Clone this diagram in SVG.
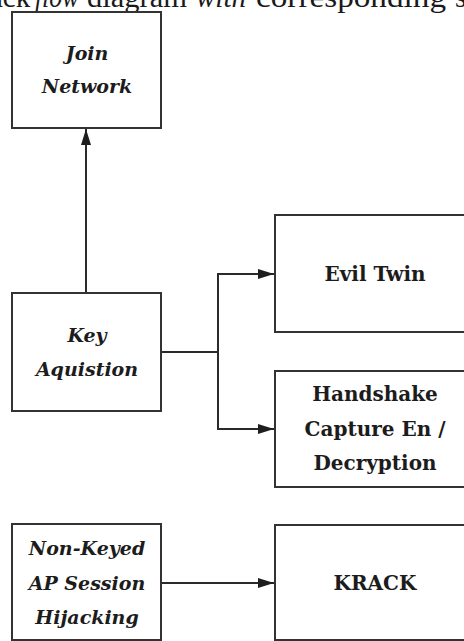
<svg xmlns="http://www.w3.org/2000/svg" width="464" height="641" viewBox="0 0 464 641">
  <defs>
    <marker id="arrow" viewBox="0 0 16 10" refX="16" refY="5" markerWidth="16" markerHeight="10" markerUnits="userSpaceOnUse" orient="auto">
      <path d="M0,0 L16,5 L0,10 Z" fill="#1e1e1e"/>
    </marker>
  </defs>
  <style>
    .box { fill: #ffffff; stroke: #333333; stroke-width: 2; }
    .edge { fill: none; stroke: #2a2a2a; stroke-width: 2; }
    .lbl-i { font-family: "DejaVu Serif", "Liberation Serif", serif; font-weight: bold; font-style: italic; font-size: 19px; fill: #1c1c1c; text-anchor: middle; }
    .lbl { font-family: "DejaVu Serif", "Liberation Serif", serif; font-weight: bold; font-size: 20px; fill: #1c1c1c; text-anchor: middle; }
    .cap { font-family: "Liberation Serif", serif; font-size: 29px; fill: #1a1a1a; }
  </style>
  <rect width="464" height="641" fill="#ffffff"/>

  <g id="caption">
    <text class="cap" y="7"><tspan x="-10">ack</tspan><tspan x="35" font-style="italic" textLength="44" lengthAdjust="spacingAndGlyphs">flow</tspan><tspan x="87" textLength="100" lengthAdjust="spacingAndGlyphs">diagram</tspan><tspan x="196" font-style="italic" textLength="50" lengthAdjust="spacingAndGlyphs">with</tspan><tspan x="256" textLength="190" lengthAdjust="spacingAndGlyphs">corresponding</tspan><tspan x="455">s</tspan></text>
  </g>

  <g id="connectors">
    <line class="edge" x1="86" y1="293" x2="86" y2="129" marker-end="url(#arrow)"/>
    <polyline class="edge" points="161,352 218,352 218,274 274,274" marker-end="url(#arrow)"/>
    <polyline class="edge" points="218,352 218,429 274,429" marker-end="url(#arrow)"/>
    <line class="edge" x1="161" y1="583" x2="274" y2="583" marker-end="url(#arrow)"/>
  </g>

  <g id="join-network">
    <rect class="box" x="12" y="12" width="149" height="116"/>
    <text class="lbl-i" x="87" y="60">Join</text>
    <text class="lbl-i" x="87" y="93">Network</text>
  </g>

  <g id="key-aquisition">
    <rect class="box" x="12" y="293" width="149" height="118"/>
    <text class="lbl-i" x="87" y="342">Key</text>
    <text class="lbl-i" x="87" y="376">Aquistion</text>
  </g>

  <g id="evil-twin">
    <rect class="box" x="275" y="215" width="210" height="117"/>
    <text class="lbl" x="375" y="281">Evil Twin</text>
  </g>

  <g id="handshake">
    <rect class="box" x="275" y="371" width="210" height="116"/>
    <text class="lbl" x="375" y="401">Handshake</text>
    <text class="lbl" x="375" y="436">Capture En /</text>
    <text class="lbl" x="375" y="470">Decryption</text>
  </g>

  <g id="non-keyed">
    <rect class="box" x="12" y="524" width="149" height="116"/>
    <text class="lbl-i" x="87" y="555">Non-Keyed</text>
    <text class="lbl-i" x="87" y="590">AP Session</text>
    <text class="lbl-i" x="87" y="624">Hijacking</text>
  </g>

  <g id="krack">
    <rect class="box" x="275" y="525" width="210" height="115"/>
    <text class="lbl" x="375" y="590" font-size="21">KRACK</text>
  </g>
</svg>
